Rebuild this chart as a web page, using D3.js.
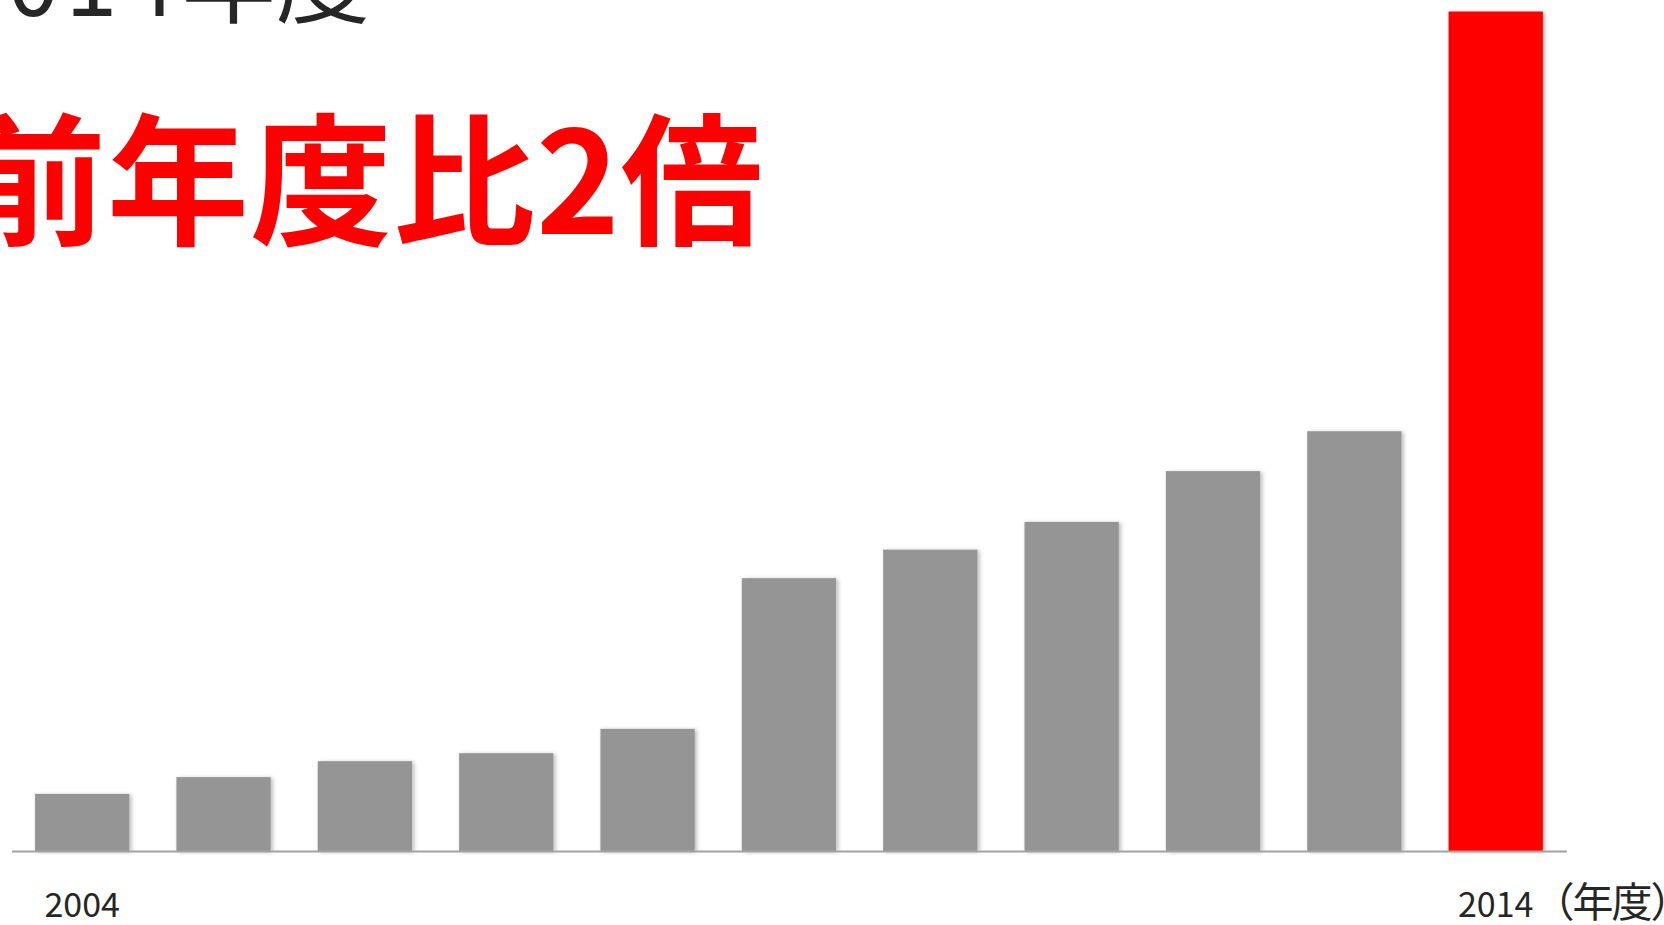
<!DOCTYPE html>
<html>
<head>
<meta charset="utf-8">
<script src="https://cdn.jsdelivr.net/npm/d3@7"></script>
<style>
  html, body { margin: 0; padding: 0; background: #ffffff; overflow: hidden; }
  svg { display: block; }
  text { font-family: "Noto Sans CJK JP", "Noto Sans", sans-serif; }
</style>
</head>
<body>
<svg id="chart" width="1664" height="925"></svg>
<script>
// ---- data ----
const years = ["2004","2005","2006","2007","2008","2009","2010","2011","2012","2013","2014"];
const values = [13.6, 17.6, 21.4, 23.3, 29.1, 65.0, 71.8, 78.4, 90.5, 100, 200];
const highlightYear = "2014";
const tickYears = ["2004", "2014"];
const unitSuffix = "（年度）";
const topTitleDigits = "2014";
const topTitleText = "年度";
const mainTitle = "前年度比2倍";

// ---- layout ----
const baseY = 851, topY = 11.5;
const svg = d3.select("#chart");

const defs = svg.append("defs");
const f = defs.append("filter").attr("id", "shadow")
  .attr("x", "-10%").attr("y", "-5%").attr("width", "130%").attr("height", "115%");
f.append("feDropShadow").attr("dx", 2).attr("dy", 1).attr("stdDeviation", 2)
  .attr("flood-color", "#000").attr("flood-opacity", 0.28);

const x = d3.scaleBand().domain(years).range([11.5, 1566.4])
  .paddingInner(0.333).paddingOuter(0.1665);
const y = d3.scaleLinear().domain([0, 200]).range([baseY, topY]);

// top (cut-off) title
const t1 = svg.append("text").attr("x", -51).attr("y", 16)
  .attr("font-size", 94).attr("fill", "#262626").attr("font-weight", 400);
t1.append("tspan").attr("letter-spacing", 6).text(topTitleDigits);
t1.append("tspan").text(topTitleText);

// main red title
svg.append("text").attr("x", -36).attr("y", 234)
  .attr("font-size", 142).attr("font-weight", 700).attr("fill", "#ff0000")
  .attr("letter-spacing", 1)
  .text(mainTitle);

// bars
svg.append("g").selectAll("rect").data(years).join("rect")
  .attr("x", d => x(d))
  .attr("y", (d, i) => y(values[i]))
  .attr("width", x.bandwidth())
  .attr("height", (d, i) => baseY - y(values[i]))
  .attr("fill", d => d === highlightYear ? "#ff0000" : "#959595")
  .attr("filter", "url(#shadow)");

// axis
const axis = svg.append("g").attr("transform", `translate(0,${baseY})`)
  .call(d3.axisBottom(x).tickValues(tickYears).tickSize(0).tickSizeOuter(0));
axis.select(".domain").attr("stroke", "#a3a3a3").attr("stroke-width", 2);
axis.selectAll(".tick text")
  .attr("font-family", "'Noto Sans CJK JP', sans-serif")
  .attr("font-size", 34).attr("fill", "#262626")
  .attr("dy", 0).attr("y", 66);

// unit suffix after last label
axis.selectAll(".tick").filter(d => d === tickYears[tickYears.length - 1])
  .select("text").each(function() {
    const el = d3.select(this);
    const w = this.getComputedTextLength();
    el.attr("text-anchor", "start").attr("x", -w / 2);
    el.append("tspan").attr("font-size", 41).attr("letter-spacing", -2).text(unitSuffix);
  });
</script>
</body>
</html>
